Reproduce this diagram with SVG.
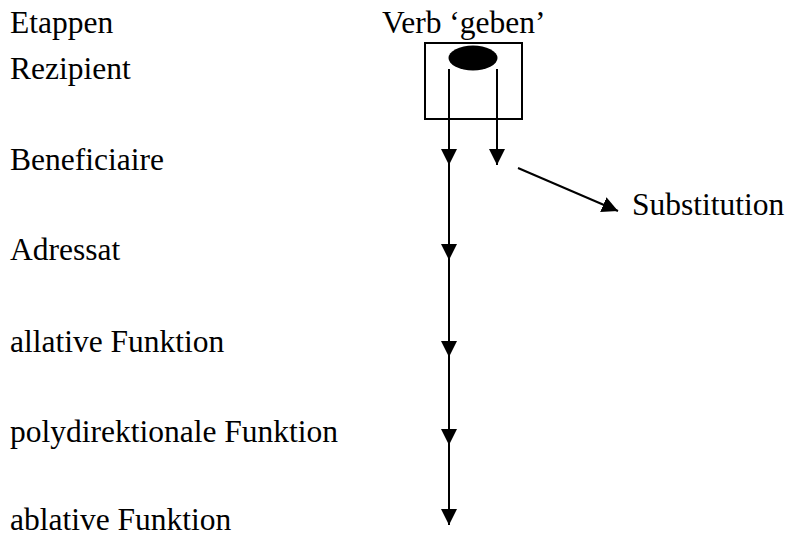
<svg xmlns="http://www.w3.org/2000/svg" width="788" height="536" viewBox="0 0 788 536">
  <style>
    text { font-family: 'Liberation Serif', 'DejaVu Serif', 'Times New Roman', serif; font-size: 31.5px; fill: #000; }
    .conn { stroke: #000; stroke-width: 2; fill: none; marker-end: url(#tip); }
  </style>
  <defs>
    <marker id="tip" markerUnits="userSpaceOnUse" markerWidth="16" markerHeight="16" viewBox="0 0 16 16" refX="16" refY="8" orient="auto">
      <path d="M0,0 L16,8 L0,16 Z" fill="#000"/>
    </marker>
  </defs>
  <rect width="788" height="536" fill="#fff"/>

  <!-- stage labels -->
  <g id="labels" font-family="Liberation Serif, serif">
    <text x="10" y="33">Etappen</text>
    <text x="10" y="79">Rezipient</text>
    <text x="10" y="170">Beneficiaire</text>
    <text x="10" y="260">Adressat</text>
    <text x="10" y="352">allative Funktion</text>
    <text x="10" y="442">polydirektionale Funktion</text>
    <text x="10" y="530">ablative Funktion</text>
  </g>

  <!-- verb node -->
  <g id="verb">
    <text x="382" y="33">Verb ‘geben’</text>
    <rect x="425" y="43" width="97" height="76" fill="none" stroke="#000" stroke-width="2"/>
    <ellipse cx="473" cy="58" rx="24.5" ry="12.5" fill="#000"/>
  </g>

  <g id="substitution">
    <text x="632" y="215">Substitution</text>
  </g>

  <!-- connectors -->
  <g id="connectors">
    <path class="conn" d="M449,69 L449,165"/>
    <path class="conn" d="M449,165 L449,260"/>
    <path class="conn" d="M449,260 L449,357"/>
    <path class="conn" d="M449,357 L449,445"/>
    <path class="conn" d="M449,445 L449,525"/>
    <path class="conn" d="M497,69 L497,165"/>
    <path class="conn" d="M518,168 L618,211"/>
  </g>
</svg>
